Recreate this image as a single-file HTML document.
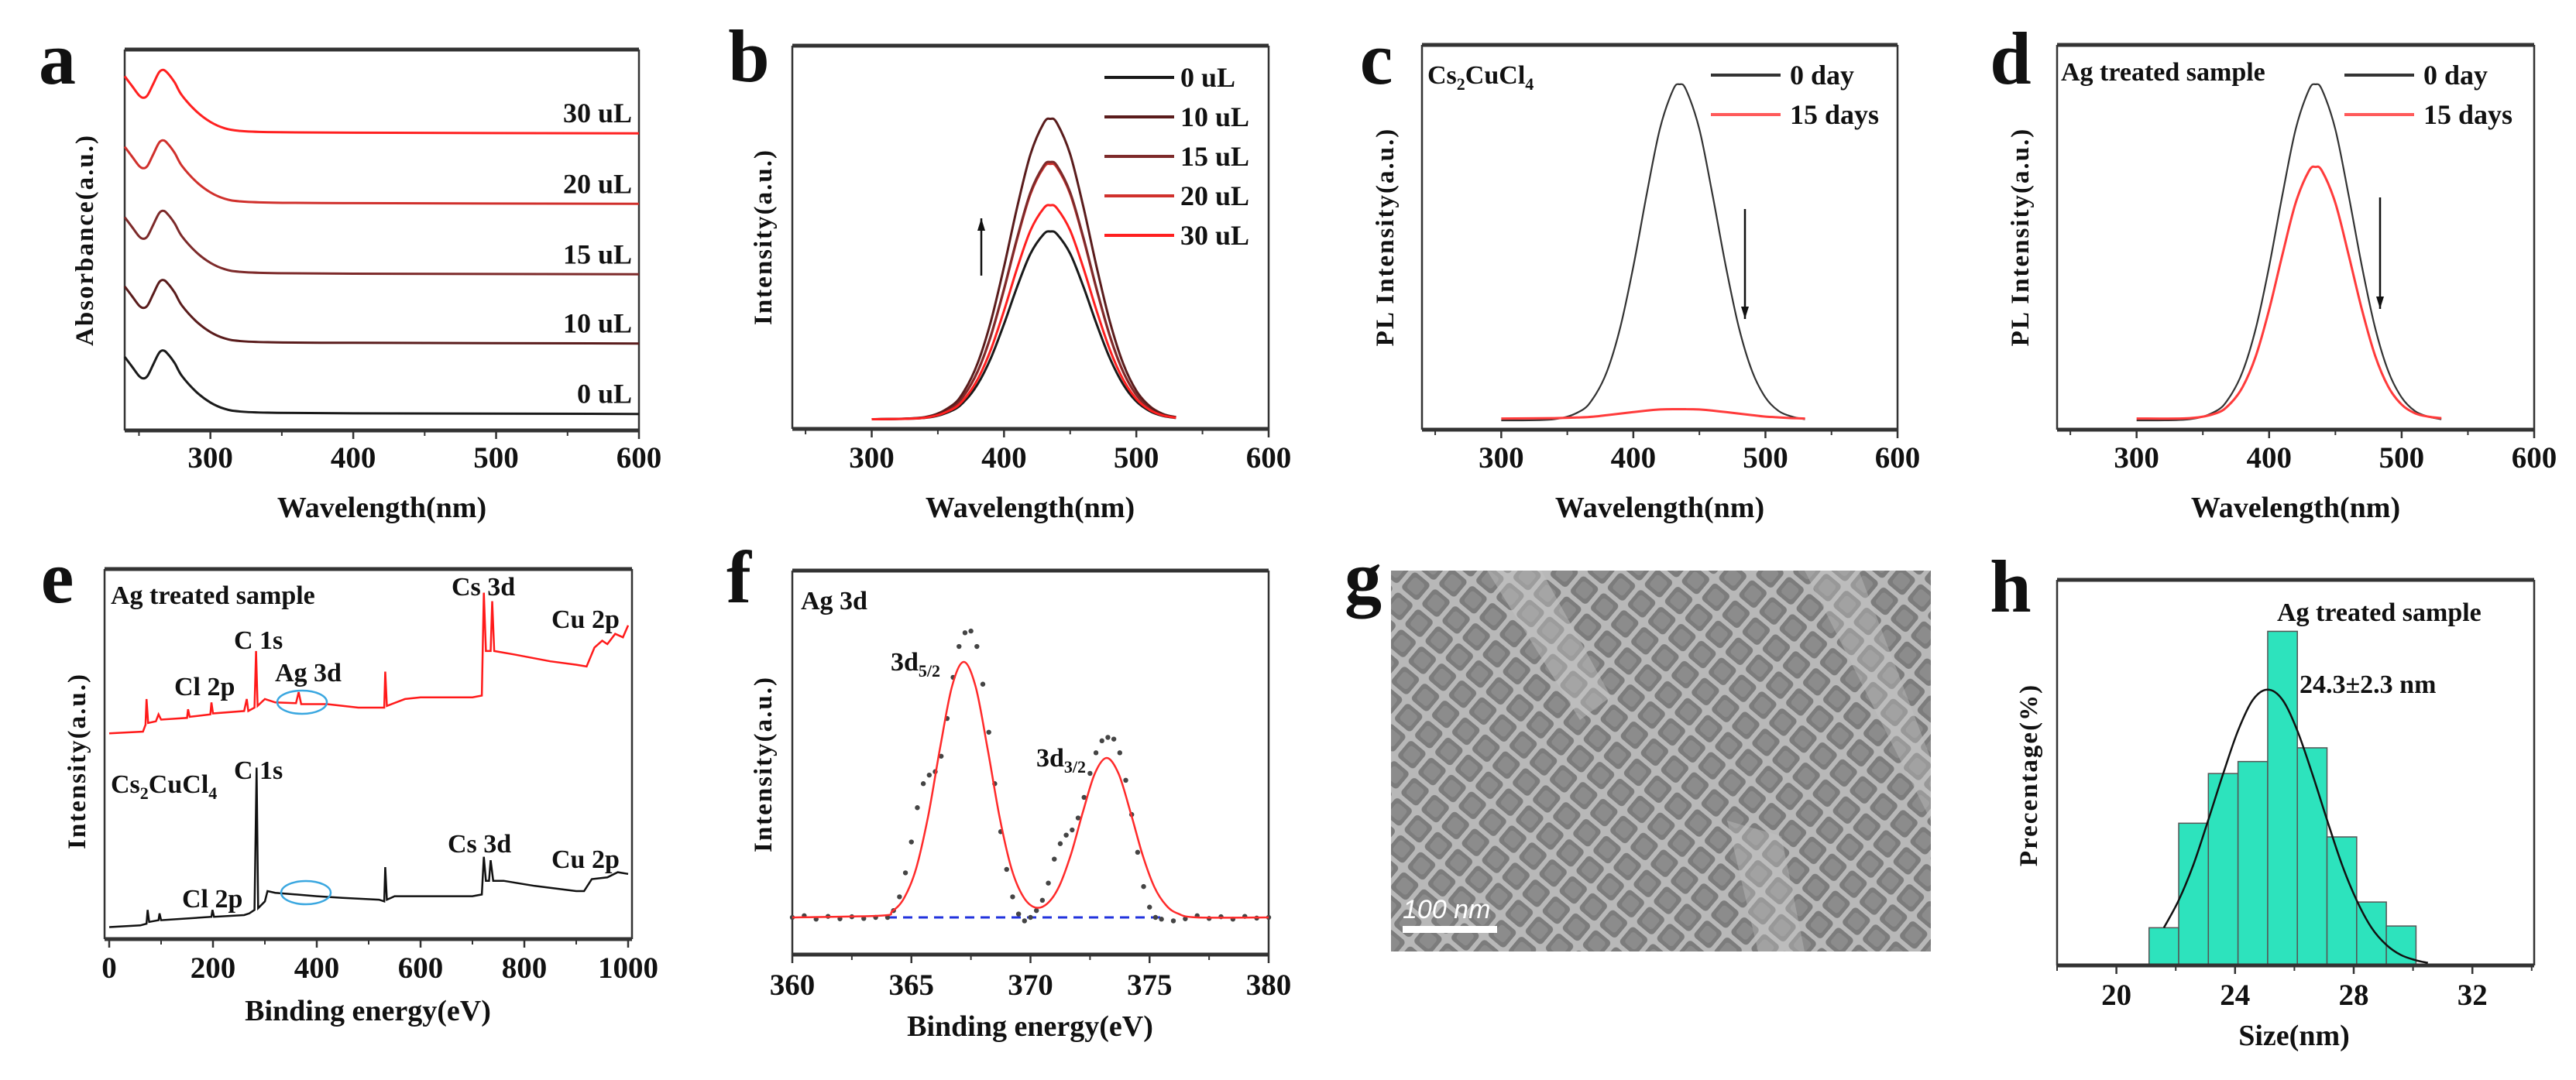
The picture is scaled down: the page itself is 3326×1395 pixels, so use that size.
<!DOCTYPE html>
<html><head><meta charset="utf-8"><style>
html,body{margin:0;padding:0;background:#fff;}
svg text{font-family:"Liberation Serif",serif;font-weight:bold;fill:#111;}
</style></head><body>
<svg id="fig" width="3326" height="1390" viewBox="0 0 3326 1390" xmlns="http://www.w3.org/2000/svg">
<defs>
<pattern id="tem" width="34" height="34" patternUnits="userSpaceOnUse" patternTransform="rotate(40)">
<rect width="34" height="34" fill="#b8b8b8"/>
<rect x="3" y="3" width="28" height="28" rx="5" fill="#7c7c7c"/>
<rect x="8" y="8" width="18" height="18" rx="4" fill="#8c8c8c"/>
</pattern>
</defs>
</svg>
<script>
// ---- data arrays ----
const absWl=[240,245,250,253,256,260,264,267,270,275,280,290,300,310,320,340,400,600];
const absShape=[0.9,0.75,0.6,0.56,0.6,0.78,0.96,1.0,0.95,0.8,0.6,0.35,0.18,0.08,0.04,0.02,0.01,0];
const absSamples=["0 uL","10 uL","15 uL","20 uL","30 uL"];
const absOffsets=[0.26,1.37,2.46,3.57,4.68];
const seriesColors=["#1a1a1a","#5a1c1c","#7d2a2a","#d0302c","#ff2020"];
const plWl=[300,340,360,370,380,390,400,410,420,430,435,440,450,460,470,480,490,500,510,520,530];
const plProfile=[0,0.007,0.044,0.095,0.186,0.325,0.507,0.707,0.882,0.986,1,0.986,0.882,0.707,0.507,0.325,0.186,0.095,0.044,0.018,0.007];
const plPeaks=[50,80,68.5,68,57];
const cDay0=[0,0.3,2.5,6.1,13,24.6,41,60,77.5,88,89.5,88,77.5,60,41,24.6,13,6.1,2.5,1,0.3];
const cDay15=[0.5,0.6,0.8,1,1.4,1.8,2.2,2.6,2.9,3,3,3,2.9,2.6,2.2,1.8,1.4,1,0.8,0.6,0.5];
const dDay0=[0,0.3,2.5,6.1,13,24.6,41,60,77.5,88,89.5,88,77.5,60,41,24.6,13,6.1,2.5,1,0.3];
const dDay15=[0.5,0.6,1.9,4.2,8.9,17.2,29.5,44.1,57.9,66.4,67.5,66.4,57.9,44.1,29.5,17.2,8.9,4.2,1.9,1,0.6];
const eRedE=[0,65,70,72,75,90,95,100,150,152,155,195,197,200,260,265,268,280,283,286,300,320,360,365,370,420,480,530,532,535,570,600,700,718,722,726,735,738,742,780,850,900,920,935,950,960,975,990,1000];
const eRedI=[600,605,625,700,630,635,655,640,645,670,648,655,690,658,665,700,665,675,840,680,700,690,688,720,685,685,675,675,780,680,700,705,705,710,1010,840,840,985,840,830,810,800,795,850,870,860,890,880,915];
const eBlkE=[0,60,72,74,77,95,97,100,150,197,199,202,260,270,280,284,287,300,305,320,400,450,520,530,532,535,550,700,718,722,726,732,735,740,760,820,900,915,930,960,980,1000];
const eBlkI=[35,40,45,85,50,55,75,55,60,65,85,65,70,75,85,500,90,110,140,135,125,120,115,110,210,115,125,125,130,240,170,170,230,170,170,155,140,140,175,180,195,190];
const fFitE=[360,363.7,364.2,364.7,365.2,365.7,366.2,366.7,367.2,367.7,368.2,368.7,369.2,369.7,370.2,370.7,371.2,371.7,372.2,372.7,373.2,373.7,374.2,374.7,375.2,375.7,376.2,377,380];
const fFitV=[0,5,18,57,143,294,492,672,745,672,492,294,143,60,29,40,90,184,307,419,465,419,307,184,89,35,11,0,0];
const fDotE=[360,360.5,361,361.5,362,362.5,363,363.5,364,364.25,364.5,364.75,365,365.25,365.5,365.75,366,366.25,366.5,366.75,367,367.25,367.5,367.75,368,368.25,368.5,368.75,369,369.25,369.5,369.75,370,370.25,370.5,370.75,371,371.25,371.5,371.75,372,372.25,372.5,372.75,373,373.25,373.5,373.75,374,374.25,374.5,374.75,375,375.25,375.5,376,376.5,377,377.5,378,378.5,379,379.5,380];
const fDotV=[0,5,-5,3,-4,2,-3,0,0,20,60,130,220,320,390,415,425,470,580,700,790,830,835,790,680,540,390,250,140,60,10,-10,0,20,50,100,170,215,240,255,290,350,420,480,515,525,520,480,400,300,190,90,30,0,-5,-10,-4,5,-3,2,-5,3,-2,0];
const hSizes=[21.6,22.6,23.6,24.6,25.6,26.6,27.6,28.6,29.6];
const hPercent=[2.2,8.3,11.2,11.9,19.5,12.7,7.5,3.7,2.3];
const hFitS=[21.6,22.1,22.6,23.1,23.6,24.1,24.6,25.1,25.6,26.1,26.6,27.1,27.6,28.1,28.6,29.1,29.6,30.1,30.5];
const hFitP=[2.2,3.8,5.9,8.5,11.2,13.7,15.5,16.1,15.5,13.7,11.2,8.5,5.9,3.8,2.2,1.2,0.6,0.3,0.15];

// ---- helpers ----
const svg=document.getElementById('fig');
const NS='http://www.w3.org/2000/svg';
function mk(tag,attrs,parent){const e=document.createElementNS(NS,tag);for(const k in attrs)e.setAttribute(k,attrs[k]);(parent||svg).appendChild(e);return e;}
function txt(x,y,s,size,anchor,parent){const t=mk('text',{x:x,y:y,'font-size':size,'text-anchor':anchor||'start'},parent);t.textContent=s;return t;}
function smooth(pts){let d='M'+pts[0][0]+','+pts[0][1];for(let i=0;i<pts.length-1;i++){const p0=pts[i-1]||pts[i],p1=pts[i],p2=pts[i+1],p3=pts[i+2]||p2;const c1x=p1[0]+(p2[0]-p0[0])/6,c1y=p1[1]+(p2[1]-p0[1])/6,c2x=p2[0]-(p3[0]-p1[0])/6,c2y=p2[1]-(p3[1]-p1[1])/6;d+=' C'+c1x.toFixed(1)+','+c1y.toFixed(1)+' '+c2x.toFixed(1)+','+c2y.toFixed(1)+' '+p2[0].toFixed(1)+','+p2[1].toFixed(1);}return d;}
function poly(pts){return 'M'+pts.map(p=>p[0].toFixed(1)+','+p[1].toFixed(1)).join(' L');}
function frame(g,x0,y0,x1,y1){
  mk('line',{x1:x0,y1:y0,x2:x1,y2:y0,stroke:'#333','stroke-width':5},g);
  mk('line',{x1:x0,y1:y1,x2:x1,y2:y1,stroke:'#333','stroke-width':5},g);
  mk('line',{x1:x0,y1:y0,x2:x0,y2:y1,stroke:'#333','stroke-width':2.5},g);
  mk('line',{x1:x1,y1:y0,x2:x1,y2:y1,stroke:'#333','stroke-width':2.5},g);
}
function xTicks(g,xs,majors,minors,yb,labY){
  majors.forEach(v=>{mk('line',{x1:xs(v),y1:yb,x2:xs(v),y2:yb+11,stroke:'#333','stroke-width':2.5},g);txt(xs(v),labY,String(v),39,'middle',g);});
  minors.forEach(v=>{mk('line',{x1:xs(v),y1:yb,x2:xs(v),y2:yb+7,stroke:'#333','stroke-width':2},g);});
}
function ylab(g,x,y,s){const t=txt(x,y,s,33,'middle',g);t.setAttribute('transform','rotate(-90 '+x+' '+y+')');t.setAttribute('letter-spacing','2');return t;}
function letter(x,y,s){const t=txt(x,y,s,96,'middle');}
function arrow(g,x,y0,y1){mk('line',{x1:x,y1:y0,x2:x,y2:y1,stroke:'#111','stroke-width':2.5},g);const dir=y1>y0?1:-1;mk('path',{d:'M'+(x-5)+','+(y1-dir*16)+' L'+x+','+y1+' L'+(x+5)+','+(y1-dir*16)+' Z',fill:'#111'},g);}

// ---- panel a ----
(function(){
const g=mk('g',{});


const xs=v=>161+(v-240)*(825-161)/360, ys=v=>556-v*82;
frame(g,161,64,825,556);
xTicks(g,xs,[300,400,500,600],[250,350,450,550],556,604);
txt(493,668,'Wavelength(nm)',38,'middle',g);
ylab(g,120,310,'Absorbance(a.u.)');
absSamples.forEach((s,i)=>{
  const pts=absWl.map((w,j)=>[xs(w),ys(absOffsets[i]+absShape[j])]);
  const p=mk('path',{d:smooth(pts),fill:'none',stroke:seriesColors[i],'stroke-width':3},g);
  
  
  const t=txt(816,ys(absOffsets[i])-14,s,36,'end',g);
  
  
});
})();
letter(74,108,'a');

// ---- panel b ----
(function(){
const g=mk('g',{});


const xs=v=>1023+(v-240)*(1638-1023)/360, ys=v=>543-v*4.85;
frame(g,1023,59,1638,554);
xTicks(g,xs,[300,400,500,600],[250,350,450,550],554,604);
txt(1330,668,'Wavelength(nm)',38,'middle',g);
ylab(g,996,306,'Intensity(a.u.)');
[0,3,2,1,4].forEach(i=>{
  const pts=plWl.map((w,j)=>[xs(w),ys(0.3+plPeaks[i]*plProfile[j])]);
  const p=mk('path',{d:smooth(pts),fill:'none',stroke:seriesColors[i],'stroke-width':3},g);
  
  
});
absSamples.forEach((s,i)=>{
  const y=100+i*51;
  const l=mk('line',{x1:1426,y1:y,x2:1516,y2:y,stroke:seriesColors[i],'stroke-width':4},g);
  
  
  const t=txt(1524,y+12,s,36,'start',g);
  
  
});
arrow(g,1267,356,282);
})();
letter(967,105,'b');

// ---- panels c & d ----
function plPanel(x0,x1,d0,d15,title,arrowX,ay0,ay1,legX,name){
const g=mk('g',{});


const xs=v=>x0+(v-240)*(x1-x0)/360, ys=v=>543-v*4.85;
frame(g,x0,58,x1,555);
xTicks(g,xs,[300,400,500,600],[250,350,450,550],555,604);
txt((x0+x1)/2,668,'Wavelength(nm)',38,'middle',g);
ylab(g,x0-37,306,'PL Intensity(a.u.)');
const p0=mk('path',{d:smooth(plWl.map((w,j)=>[xs(w),ys(d0[j])])),fill:'none',stroke:'#333','stroke-width':2.2},g);


const p1=mk('path',{d:smooth(plWl.map((w,j)=>[xs(w),ys(d15[j])])),fill:'none',stroke:'#ff3b3b','stroke-width':3},g);


[['0 day','#333',97],['15 days','#ff5a5a',148]].forEach(e=>{
  const l=mk('line',{x1:legX,y1:e[2],x2:legX+90,y2:e[2],stroke:e[1],'stroke-width':4},g);
  
  
  const t=txt(legX+102,e[2]+12,e[0],36,'start',g);
  
  
});
arrow(g,arrowX,ay0,ay1);
return g;
}
const gc=plPanel(1836,2450,cDay0,cDay15,'',2253,270,412,2209,'panel-c-pl-stability');
const ct=mk('text',{x:1843,y:108,'font-size':34},gc);ct.innerHTML='Cs<tspan font-size="22" dy="8">2</tspan><tspan dy="-8">CuCl</tspan><tspan font-size="22" dy="8">4</tspan>';


letter(1777,108,'c');
const gd=plPanel(2656,3272,dDay0,dDay15,'',3073,255,399,3027,'panel-d-pl-stability');
const dt=txt(2661,104,'Ag treated sample',34,'start',gd);


letter(2596,108,'d');

// ---- panel e ----
(function(){
const g=mk('g',{});


const xs=v=>141+v*0.67, ys=v=>1213-v*0.443;
frame(g,135,735,816,1213);
xTicks(g,xs,[0,200,400,600,800,1000],[100,300,500,700,900],1213,1263);
txt(475,1318,'Binding energy(eV)',38,'middle',g);
ylab(g,110,983,'Intensity(a.u.)');
const r=mk('path',{d:poly(eRedE.map((e,i)=>[xs(e),ys(eRedI[i])])),fill:'none',stroke:'#ff1a1a','stroke-width':2.5},g);


const b=mk('path',{d:poly(eBlkE.map((e,i)=>[xs(e),ys(eBlkI[i])])),fill:'none',stroke:'#111','stroke-width':2.5},g);


[[390,907],[395,1153]].forEach(c=>{const el=mk('ellipse',{cx:c[0],cy:c[1],rx:32,ry:15,fill:'none',stroke:'#3aa7e0','stroke-width':2.5},g);

});
[['Ag treated sample',143,780],['Cs 3d',583,769],['Cu 2p',712,811],['C 1s',302,838],['Cl 2p',225,898],['Ag 3d',355,880],['C 1s',302,1006],['Cs 3d',578,1101],['Cu 2p',712,1121],['Cl 2p',235,1172]].forEach(a=>{
  const t=txt(a[1],a[2],a[0],34,'start',g);
  
  
});
const ct=mk('text',{x:143,y:1024,'font-size':34},g);ct.innerHTML='Cs<tspan font-size="22" dy="8">2</tspan><tspan dy="-8">CuCl</tspan><tspan font-size="22" dy="8">4</tspan>';


})();
letter(74,778,'e');

// ---- panel f ----
(function(){
const g=mk('g',{});


const xs=v=>1023+(v-360)*30.75, ys=v=>1185-v*0.443;
frame(g,1023,737,1638,1233);
xTicks(g,xs,[360,365,370,375,380],[362.5,367.5,372.5,377.5],1233,1285);
txt(1330,1338,'Binding energy(eV)',38,'middle',g);
ylab(g,996,987,'Intensity(a.u.)');
const bl=mk('line',{x1:xs(364),y1:ys(0),x2:xs(375.5),y2:ys(0),stroke:'#2233dd','stroke-width':3,'stroke-dasharray':'12,8'},g);


fDotE.forEach((e,i)=>{const c=mk('circle',{cx:xs(e),cy:ys(fDotV[i]),r:3.2,fill:'#444'},g);

});
const f=mk('path',{d:smooth(fFitE.map((e,i)=>[xs(e),ys(fFitV[i])])),fill:'none',stroke:'#ff2a2a','stroke-width':2.5},g);


const t0=txt(1034,787,'Ag 3d',34,'start',g);


const a=mk('text',{x:1150,y:866,'font-size':34},g);a.innerHTML='3d<tspan font-size="22" dy="8">5/2</tspan>';


const b=mk('text',{x:1338,y:990,'font-size':34},g);b.innerHTML='3d<tspan font-size="22" dy="8">3/2</tspan>';


})();
letter(954,778,'f');

// ---- panel g (TEM) ----
(function(){
const g=mk('g',{});


mk('rect',{x:1796,y:737,width:697,height:492,fill:'url(#tem)'},g);
mk('path',{d:'M1920,737 L1990,737 L2080,900 L2040,930 Z',fill:'#c4c4c4',opacity:0.45},g);
mk('path',{d:'M2330,737 L2400,737 L2493,980 L2493,1060 Z',fill:'#c4c4c4',opacity:0.4},g);
mk('path',{d:'M2230,1060 L2300,1080 L2330,1229 L2270,1229 Z',fill:'#c4c4c4',opacity:0.4},g);
const sb=mk('rect',{x:1811,y:1196,width:122,height:9,fill:'#fff'},g);


const st=txt(1811,1186,'100 nm',34,'start',g);
st.setAttribute('style','fill:#fff;font-style:italic;font-family:"Liberation Sans",sans-serif;font-weight:normal');


})();
letter(1760,778,'g');

// ---- panel h ----
(function(){
const g=mk('g',{});


const xs=v=>2656+(v-18)*38.3, ys=v=>1247-v*22.13;
hSizes.forEach((s,i)=>{
  const r=mk('rect',{x:xs(s-0.5),y:ys(hPercent[i]),width:xs(s+0.5)-xs(s-0.5),height:ys(0)-ys(hPercent[i]),fill:'#2de3bd',stroke:'#555','stroke-width':1.5},g);
  
  
});
const f=mk('path',{d:smooth(hFitS.map((s,i)=>[xs(s),ys(hFitP[i])])),fill:'none',stroke:'#111','stroke-width':2.5},g);


frame(g,2656,749,3272,1247);
xTicks(g,xs,[20,24,28,32],[18,22,26,30,34],1247,1298);
txt(2962,1350,'Size(nm)',38,'middle',g);
ylab(g,2630,1001,'Precentage(%)');
const t1=txt(2940,802,'Ag treated sample',34,'start',g);


const t2=txt(2969,895,'24.3±2.3 nm',34,'start',g);


})();
letter(2596,790,'h');
</script>
</body></html>
